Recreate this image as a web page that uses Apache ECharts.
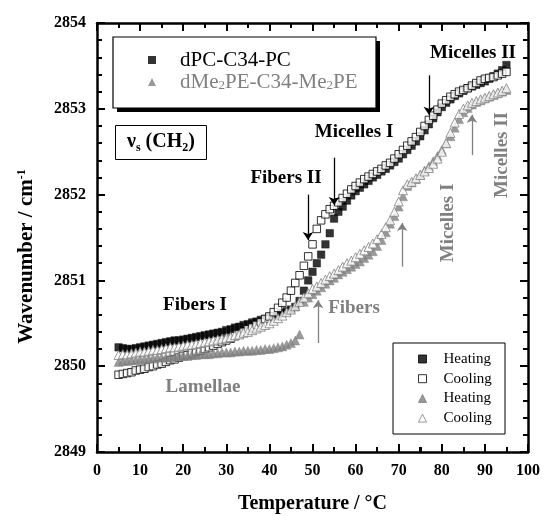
<!DOCTYPE html>
<html>
<head>
<meta charset="utf-8">
<script src="https://cdn.jsdelivr.net/npm/echarts@6.0.0/dist/echarts.min.js"></script>
<style>
  html, body { margin: 0; padding: 0; background: #fff; }
  #chart { width: 544px; height: 516px; }
</style>
</head>
<body>
<div id="chart"></div>
<script>
// temperature (°C) of every measured point
const temps = [5, 6, 7, 8, 9, 10, 11, 12, 13, 14, 15, 16, 17, 18, 19, 20, 21, 22, 23, 24,
  25, 26, 27, 28, 29, 30, 31, 32, 33, 34, 35, 36, 37, 38, 39, 40, 41, 42, 43, 44,
  45, 46, 47, 48, 49, 50, 51, 52, 53, 54, 55, 56, 57, 58, 59, 60, 61, 62, 63, 64,
  65, 66, 67, 68, 69, 70, 71, 72, 73, 74, 75, 76, 77, 78, 79, 80, 81, 82, 83, 84,
  85, 86, 87, 88, 89, 90, 91, 92, 93, 94, 95]

// dPC-C34-PC heating (filled squares)
const pcHeating = [2850.22, 2850.21, 2850.20, 2850.20, 2850.21, 2850.22, 2850.23, 2850.24, 2850.25, 2850.26,
  2850.27, 2850.28, 2850.29, 2850.30, 2850.30, 2850.31, 2850.32, 2850.33, 2850.34, 2850.35,
  2850.36, 2850.37, 2850.38, 2850.39, 2850.40, 2850.42, 2850.43, 2850.45, 2850.46, 2850.48,
  2850.49, 2850.51, 2850.52, 2850.54, 2850.55, 2850.57, 2850.58, 2850.60, 2850.62, 2850.64,
  2850.66, 2850.69, 2850.76, 2850.88, 2851.00, 2851.10, 2851.20, 2851.30, 2851.42, 2851.55,
  2851.72, 2851.80, 2851.86, 2851.93, 2851.99, 2852.04, 2852.08, 2852.12, 2852.16, 2852.20,
  2852.23, 2852.27, 2852.30, 2852.34, 2852.38, 2852.42, 2852.47, 2852.52, 2852.57, 2852.62,
  2852.68, 2852.75, 2852.82, 2852.89, 2852.96, 2853.02, 2853.07, 2853.11, 2853.15, 2853.18,
  2853.21, 2853.24, 2853.26, 2853.28, 2853.30, 2853.32, 2853.35, 2853.38, 2853.41, 2853.45, 2853.51]

// dPC-C34-PC cooling (open squares)
const pcCooling = [2849.90, 2849.91, 2849.92, 2849.93, 2849.95, 2849.96, 2849.97, 2849.99, 2850.00, 2850.02,
  2850.03, 2850.05, 2850.07, 2850.08, 2850.10, 2850.12, 2850.13, 2850.15, 2850.17, 2850.18,
  2850.20, 2850.22, 2850.24, 2850.26, 2850.28, 2850.30, 2850.32, 2850.35, 2850.37, 2850.40,
  2850.43, 2850.45, 2850.48, 2850.51, 2850.55, 2850.58, 2850.63, 2850.68, 2850.74, 2850.80,
  2850.88, 2850.97, 2851.06, 2851.17, 2851.28, 2851.42, 2851.60, 2851.70, 2851.77, 2851.83,
  2851.87, 2851.91, 2851.96, 2852.01, 2852.06, 2852.10, 2852.14, 2852.18, 2852.21, 2852.24,
  2852.27, 2852.30, 2852.34, 2852.37, 2852.42, 2852.47, 2852.52, 2852.57, 2852.62, 2852.67,
  2852.73, 2852.80, 2852.87, 2852.92, 2852.99, 2853.06, 2853.10, 2853.14, 2853.17, 2853.20,
  2853.22, 2853.24, 2853.27, 2853.30, 2853.33, 2853.35, 2853.36, 2853.37, 2853.39, 2853.41, 2853.43]

// dMe2PE-C34-Me2PE heating (filled triangles)
const peHeating = [2850.05, 2850.06, 2850.06, 2850.07, 2850.07, 2850.08, 2850.08, 2850.09, 2850.09, 2850.10,
  2850.10, 2850.10, 2850.11, 2850.11, 2850.12, 2850.12, 2850.12, 2850.13, 2850.13, 2850.14,
  2850.14, 2850.14, 2850.15, 2850.15, 2850.16, 2850.16, 2850.16, 2850.17, 2850.17, 2850.18,
  2850.18, 2850.18, 2850.19, 2850.19, 2850.20, 2850.20, 2850.21, 2850.22, 2850.23, 2850.25,
  2850.27, 2850.30, 2850.37, 2850.75, 2850.80, 2850.84, 2850.88, 2850.92, 2850.96, 2851.00,
  2851.03, 2851.07, 2851.10, 2851.13, 2851.16, 2851.19, 2851.22, 2851.26, 2851.30, 2851.34,
  2851.40, 2851.47, 2851.56, 2851.66, 2851.75, 2851.86, 2851.98, 2852.10, 2852.14, 2852.18,
  2852.23, 2852.28, 2852.33, 2852.39, 2852.45, 2852.52, 2852.60, 2852.68, 2852.78, 2852.88,
  2852.96, 2853.01, 2853.05, 2853.08, 2853.10, 2853.12, 2853.14, 2853.16, 2853.18, 2853.20, 2853.22]

// dMe2PE-C34-Me2PE cooling (open triangles)
const peCooling = [2850.13, 2850.14, 2850.14, 2850.15, 2850.16, 2850.17, 2850.17, 2850.18, 2850.19, 2850.19,
  2850.20, 2850.21, 2850.22, 2850.22, 2850.23, 2850.24, 2850.25, 2850.25, 2850.26, 2850.27,
  2850.28, 2850.29, 2850.30, 2850.31, 2850.32, 2850.33, 2850.34, 2850.36, 2850.37, 2850.39,
  2850.40, 2850.42, 2850.44, 2850.46, 2850.48, 2850.50, 2850.53, 2850.56, 2850.59, 2850.63,
  2850.66, 2850.70, 2850.75, 2850.80, 2850.85, 2850.90, 2850.93, 2850.97, 2851.01, 2851.05,
  2851.08, 2851.12, 2851.16, 2851.20, 2851.23, 2851.27, 2851.31, 2851.35, 2851.39, 2851.43,
  2851.48, 2851.54, 2851.62, 2851.70, 2851.80, 2851.92, 2852.05, 2852.12, 2852.15, 2852.19,
  2852.23, 2852.27, 2852.31, 2852.36, 2852.42, 2852.50, 2852.60, 2852.72, 2852.84, 2852.94,
  2853.00, 2853.04, 2853.07, 2853.09, 2853.11, 2853.13, 2853.15, 2853.17, 2853.19, 2853.21, 2853.24]

// transition arrows: [temperature, from, to]
const blackArrows = [[48.96, 2852.0, 2851.47], [55.0, 2852.43, 2851.88], [77.0, 2853.39, 2852.93]]
const grayArrows = [[51.3, 2850.27, 2850.77], [70.8, 2851.16, 2851.67], [87.0, 2852.46, 2852.93]]

// frame tick values
const xMajor = [0, 10, 20, 30, 40, 50, 60, 70, 80, 90, 100]
const xMinor = [5, 15, 25, 35, 45, 55, 65, 75, 85, 95]
const yMajor = [2849, 2850, 2851, 2852, 2853, 2854]
const yMinor = [2849.2, 2849.4, 2849.6, 2849.8, 2850.2, 2850.4, 2850.6, 2850.8,
  2851.2, 2851.4, 2851.6, 2851.8, 2852.2, 2852.4, 2852.6, 2852.8,
  2853.2, 2853.4, 2853.6, 2853.8]

const serif = '"Liberation Serif", "Times New Roman", serif'
const gray = '#808080'

// plot box in pixels (544x516 minus grid margins), used for tick lengths
const plotW = 544 - 97 - 16
const plotH = 516 - 23 - 64

function pairs(vals) {
  return temps.map((t, i) => [t, vals[i]])
}
function arrows(list) {
  return list.map(a => [{ coord: [a[0], a[1]] }, { coord: [a[0], a[2]] }])
}

// inward frame ticks as short segments on the data scales
function frameTicks() {
  const segs = []
  const addX = (vals, px) => {
    const d = px * 5 / plotH
    vals.forEach(x => {
      segs.push([{ coord: [x, 2849] }, { coord: [x, 2849 + d] }])
      segs.push([{ coord: [x, 2854] }, { coord: [x, 2854 - d] }])
    })
  }
  const addY = (vals, px) => {
    const d = px * 100 / plotW
    vals.forEach(y => {
      segs.push([{ coord: [0, y] }, { coord: [d, y] }])
      segs.push([{ coord: [100, y] }, { coord: [100 - d, y] }])
    })
  }
  addX(xMajor, 8)
  addX(xMinor, 5)
  addY(yMajor, 8)
  addY(yMinor, 5)
  return segs
}

// one frame side
function frameAxis(pos, min, max, interval, minorSplit, labels) {
  return {
    type: 'value',
    position: pos,
    min: min,
    max: max,
    interval: interval,
    axisLine: { show: true, onZero: false, lineStyle: { color: '#000', width: 2.5 } },
    axisTick: { show: true, inside: true, length: 8, lineStyle: { color: '#000', width: 2 } },
    minorTick: { show: true, splitNumber: minorSplit, length: 5, lineStyle: { color: '#000', width: 2 } },
    splitLine: { show: false },
    axisLabel: labels
      ? { show: true, fontFamily: serif, fontWeight: 'bold', fontSize: 16, color: '#000', margin: 11, formatter: v => String(v) }
      : { show: false }
  }
}

const chart = echarts.init(document.getElementById('chart'))

const xBottom = frameAxis('bottom', 0, 100, 10, 2, true)
xBottom.name = 'Temperature / °C'
xBottom.nameLocation = 'middle'
xBottom.nameGap = 42
xBottom.nameTextStyle = { fontFamily: serif, fontWeight: 'bold', fontSize: 20, color: '#000' }

const yLeft = frameAxis('left', 2849, 2854, 1, 5, true)
yLeft.name = 'Wavenumber / cm{sup|-1}'
yLeft.nameLocation = 'middle'
yLeft.nameGap = 60
yLeft.nameTextStyle = {
  fontFamily: serif, fontWeight: 'bold', fontSize: 21, color: '#000',
  padding: [0, 38, 0, 0],
  rich: { sup: { fontFamily: serif, fontWeight: 'bold', fontSize: 12, color: '#000', verticalAlign: 'top' } }
}

chart.setOption({
  animation: false,
  grid: { left: 97, right: 16, top: 23, bottom: 64, outerBoundsMode: 'none' },
  xAxis: [xBottom, frameAxis('top', 0, 100, 10, 2, false)],
  yAxis: [yLeft, frameAxis('right', 2849, 2854, 1, 5, false)],
  title: {
    left: 115, top: 123,
    text: '{v|ν}{s|s}{v| (CH}{s|2}{v|)}',
    padding: [6, 12, 6, 12],
    borderColor: '#000', borderWidth: 1,
    backgroundColor: '#fff',
    textStyle: {
      rich: {
        v: { fontFamily: serif, fontWeight: 'bold', fontSize: 20, color: '#000', lineHeight: 25 },
        s: { fontFamily: serif, fontWeight: 'bold', fontSize: 12, color: '#000', lineHeight: 14, verticalAlign: 'bottom' }
      }
    }
  },
  legend: [
    {
      orient: 'vertical', left: 148, top: 49.5, padding: 0,
      itemWidth: 8, itemHeight: 8, itemGap: 1,
      selectedMode: false,
      data: ['dPC-C34-PC', 'dMe2PE-C34-Me2PE'],
      formatter: function (name) {
        if (name === 'dPC-C34-PC') return '{k|dPC-C34-PC}'
        return '{gp|dMe}{gs|2}{g|PE-C34-Me}{gs|2}{g|PE}'
      },
      textStyle: {
        fontFamily: serif, fontSize: 21,
        rich: {
          k: { fontFamily: serif, fontSize: 21, color: '#000', padding: [0, 0, 0, 19] },
          gp: { fontFamily: serif, fontSize: 21, color: gray, padding: [0, 0, 0, 19] },
          g: { fontFamily: serif, fontSize: 21, color: gray },
          gs: { fontFamily: serif, fontSize: 13, color: gray, verticalAlign: 'bottom' }
        }
      }
    },
    {
      orient: 'vertical', left: 418, top: 351.5, padding: 0,
      itemWidth: 8, itemHeight: 8, itemGap: 4.7,
      selectedMode: false,
      itemStyle: { borderWidth: 1 },
      data: ['PC Heating', 'PC Cooling', 'PE Heating', 'PE Cooling'],
      formatter: function (name) {
        return '{t|' + name.slice(3) + '}'
      },
      textStyle: {
        fontFamily: serif, fontSize: 15,
        rich: { t: { fontFamily: serif, fontSize: 15, color: '#000', padding: [0, 0, 0, 12] } }
      }
    }
  ],
  series: [
    // legend-only entries for the compound names
    { name: 'dPC-C34-PC', type: 'scatter', symbol: 'rect', data: [], itemStyle: { color: '#000', borderColor: '#000' } },
    { name: 'dMe2PE-C34-Me2PE', type: 'scatter', symbol: 'triangle', data: [], itemStyle: { color: gray, borderColor: gray } },
    {
      name: 'PC Heating', type: 'scatter', symbol: 'rect', symbolSize: 7.5,
      itemStyle: { color: '#000', borderColor: '#000', borderWidth: 0.5 },
      data: pairs(pcHeating),
      markLine: {
        silent: true, symbol: ['none', 'arrow'], symbolSize: 8,
        label: { show: false },
        lineStyle: { color: '#000', width: 1.3, type: 'solid' },
        data: arrows(blackArrows)
      }
    },
    {
      name: 'PC Cooling', type: 'scatter', symbol: 'rect', symbolSize: 7.5,
      itemStyle: { color: '#fff', borderColor: '#000', borderWidth: 1 },
      data: pairs(pcCooling),
      markLine: {
        silent: true, symbol: ['none', 'none'],
        label: { show: false },
        lineStyle: { color: '#000', width: 2, type: 'solid' },
        data: frameTicks()
      }
    },
    {
      name: 'PE Heating', type: 'scatter', symbol: 'triangle', symbolSize: 9,
      itemStyle: { color: gray, borderColor: gray, borderWidth: 0.5 },
      data: pairs(peHeating),
      markLine: {
        silent: true, symbol: ['none', 'arrow'], symbolSize: 8,
        label: { show: false },
        lineStyle: { color: gray, width: 1.3, type: 'solid' },
        data: arrows(grayArrows)
      }
    },
    {
      name: 'PE Cooling', type: 'scatter', symbol: 'triangle', symbolSize: 9,
      itemStyle: { color: '#fff', borderColor: gray, borderWidth: 1 },
      data: pairs(peCooling)
    }
  ],
  graphic: [
    // legend frames: the upper one has a solid drop shadow
    { type: 'rect', z: 3, shape: { x: 117, y: 41, width: 263, height: 71 }, style: { fill: '#000' } },
    { type: 'rect', z: 3, shape: { x: 113, y: 37, width: 263, height: 71 }, style: { fill: '#fff', stroke: '#000', lineWidth: 1.2 } },
    { type: 'rect', z: 3, shape: { x: 393, y: 343, width: 112, height: 91 }, style: { fill: '#fff', stroke: '#000', lineWidth: 1 } },
    { type: 'text', x: 195, y: 305, style: { text: 'Fibers I', font: 'bold 19px ' + serif, fill: '#000', align: 'center', verticalAlign: 'middle', textAlign: 'center', textVerticalAlign: 'middle' } },
    { type: 'text', x: 203, y: 387, style: { text: 'Lamellae', font: 'bold 19px ' + serif, fill: gray, align: 'center', verticalAlign: 'middle', textAlign: 'center', textVerticalAlign: 'middle' } },
    { type: 'text', x: 286, y: 178, style: { text: 'Fibers II', font: 'bold 19px ' + serif, fill: '#000', align: 'center', verticalAlign: 'middle', textAlign: 'center', textVerticalAlign: 'middle' } },
    { type: 'text', x: 354, y: 132, style: { text: 'Micelles I', font: 'bold 19px ' + serif, fill: '#000', align: 'center', verticalAlign: 'middle', textAlign: 'center', textVerticalAlign: 'middle' } },
    { type: 'text', x: 473, y: 53, style: { text: 'Micelles II', font: 'bold 19px ' + serif, fill: '#000', align: 'center', verticalAlign: 'middle', textAlign: 'center', textVerticalAlign: 'middle' } },
    { type: 'text', x: 354, y: 308, style: { text: 'Fibers', font: 'bold 19px ' + serif, fill: gray, align: 'center', verticalAlign: 'middle', textAlign: 'center', textVerticalAlign: 'middle' } },
    { type: 'text', x: 448, y: 223, rotation: Math.PI / 2, style: { text: 'Micelles I', font: 'bold 19px ' + serif, fill: gray, align: 'center', verticalAlign: 'middle', textAlign: 'center', textVerticalAlign: 'middle' } },
    { type: 'text', x: 502, y: 155, rotation: Math.PI / 2, style: { text: 'Micelles II', font: 'bold 19px ' + serif, fill: gray, align: 'center', verticalAlign: 'middle', textAlign: 'center', textVerticalAlign: 'middle' } }
  ]
})
</script>
</body>
</html>
